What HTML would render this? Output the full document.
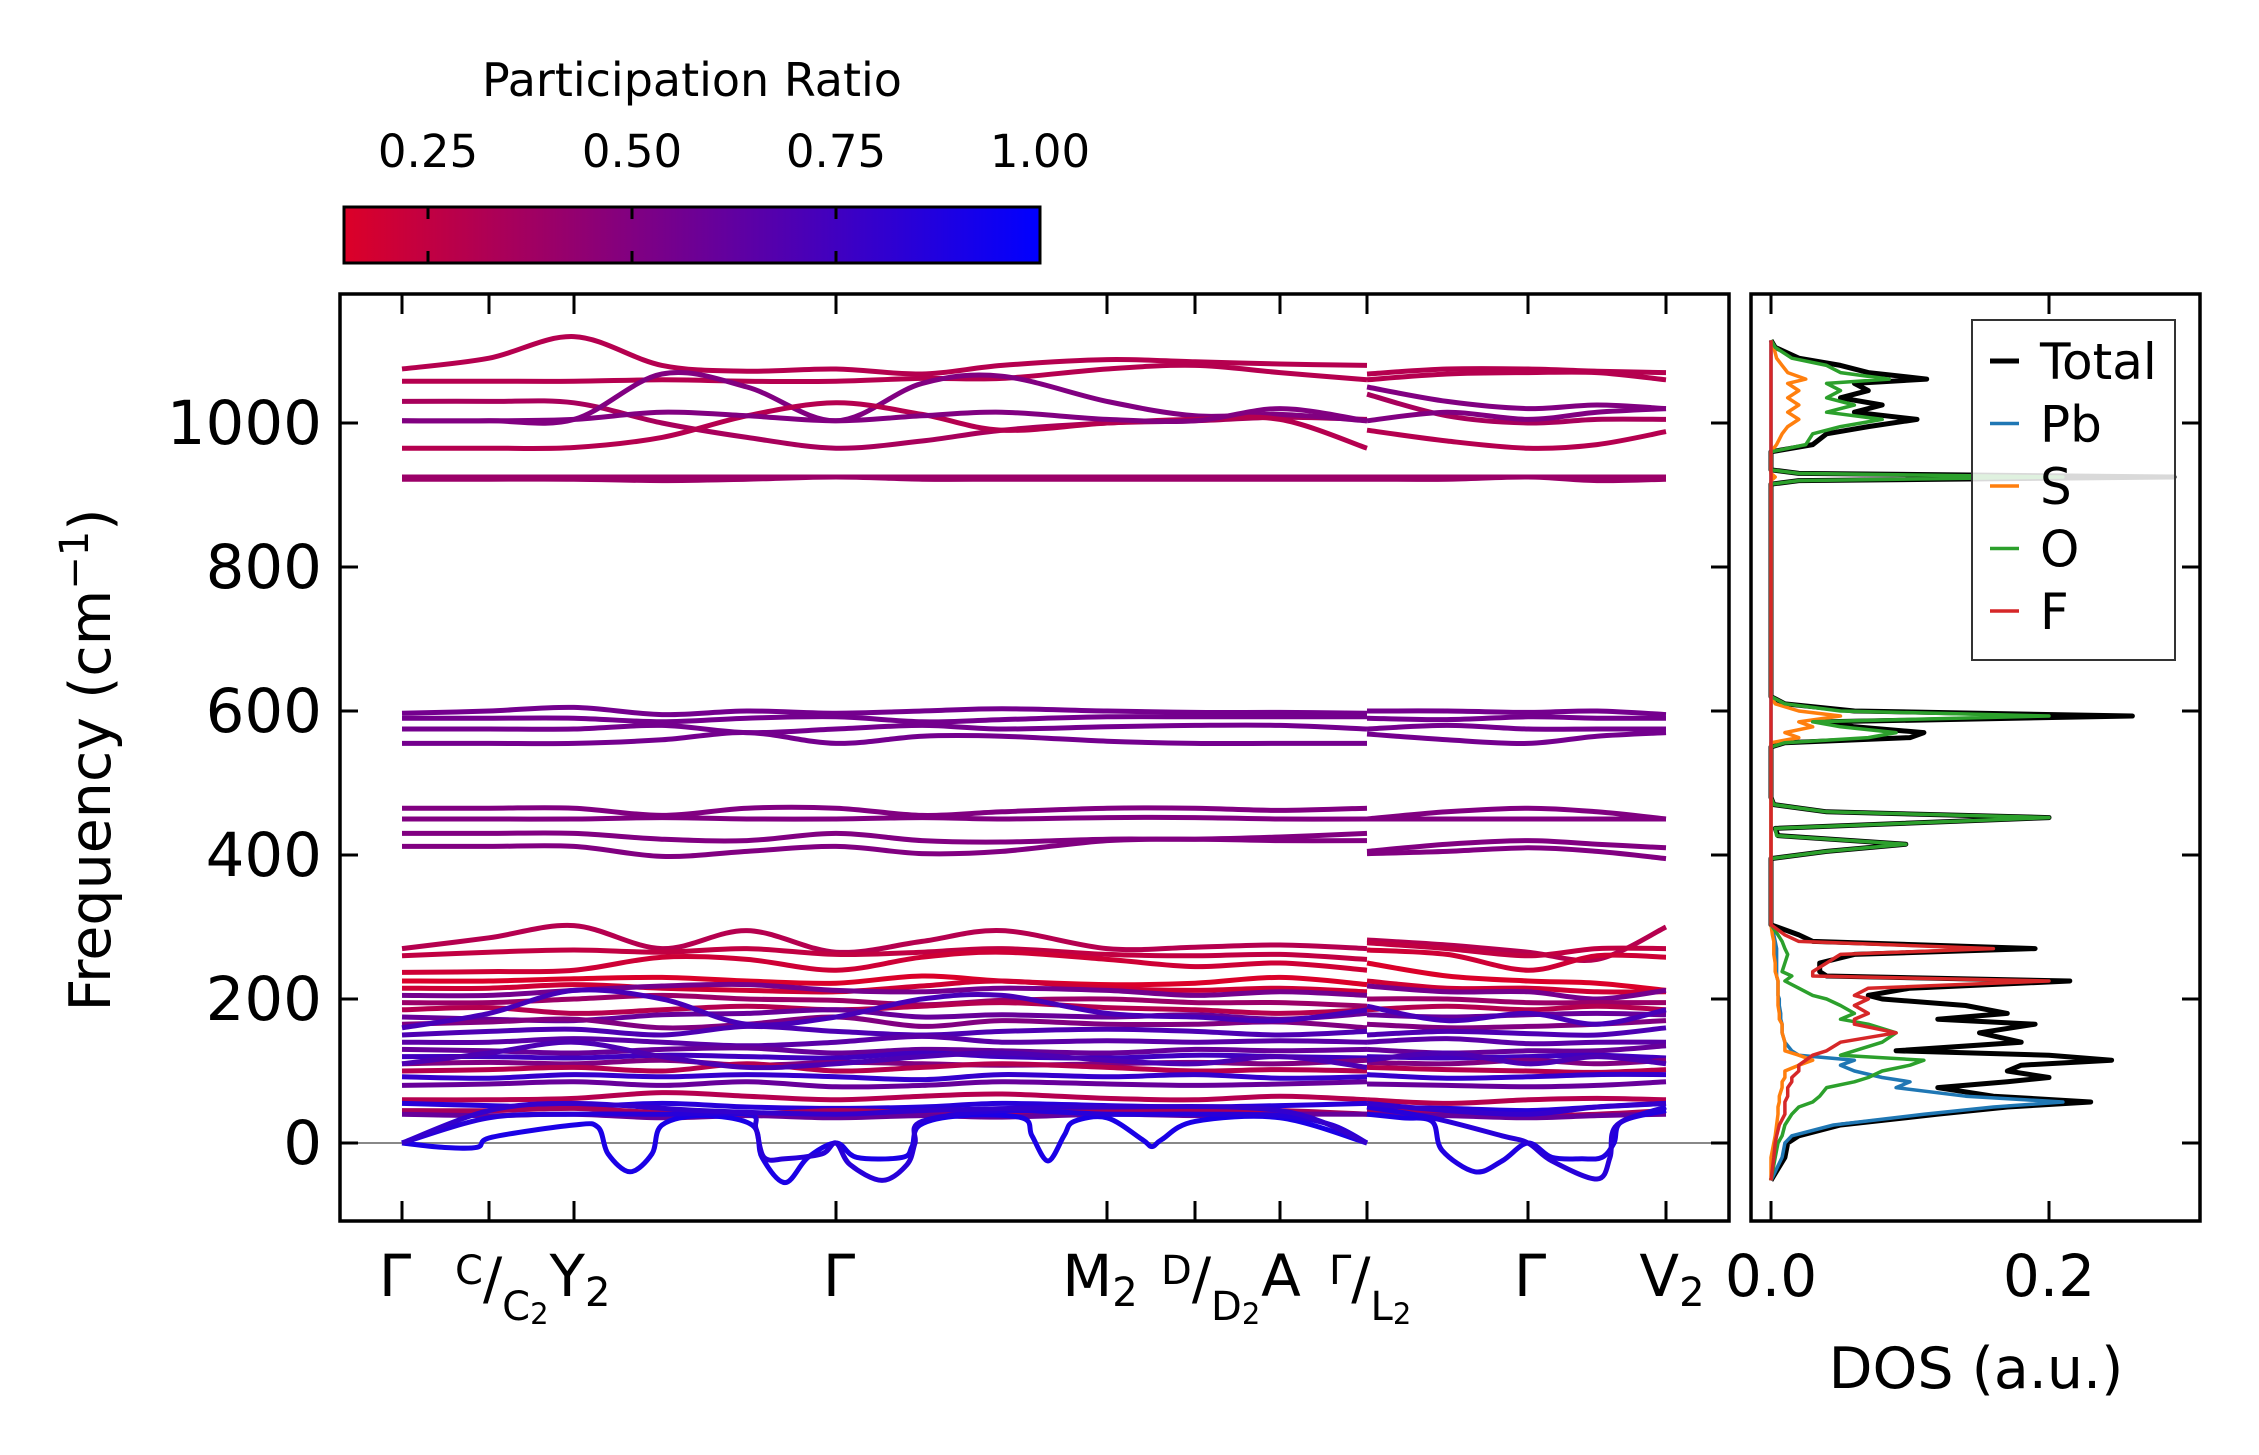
<!DOCTYPE html>
<html><head><meta charset="utf-8">
<style>
html,body{margin:0;padding:0;background:#fff;}
svg{display:block;font-family:"DejaVu Sans","Liberation Sans",sans-serif;}
</style></head>
<body>
<svg id="fig" width="2259" height="1455" viewBox="0 0 2259 1455" xmlns="http://www.w3.org/2000/svg">
<defs>
<linearGradient id="cbgrad" x1="0" x2="1" y1="0" y2="0">
<stop offset="0" stop-color="rgb(220,0,40)"/>
<stop offset="1" stop-color="rgb(0,0,255)"/>
</linearGradient>
<clipPath id="clipMain"><rect x="340" y="294" width="1389" height="927"/></clipPath>
<clipPath id="clipDos"><rect x="1751" y="294" width="449" height="927"/></clipPath>
</defs>
<g id="colorbar">
<text x="692" y="96" font-size="46" text-anchor="middle">Participation Ratio</text>
<rect x="344" y="207" width="696" height="56" fill="url(#cbgrad)" stroke="#000" stroke-width="3"/>
</g>
<g id="bands" clip-path="url(#clipMain)"></g>
<g id="dos" clip-path="url(#clipDos)"></g>
<g id="axes"></g>
</svg>
<script>
// ---------- band data ----------
const kTicks = [0, 87, 172, 434, 705, 793, 878, 965, 1126, 1264];
const kPart1 = [0, 87, 172, 260, 345, 434, 520, 600, 705, 793, 878, 965];
const kPart2 = [965, 1045, 1126, 1195, 1264];
const bandsPart1 = [
[1075,1090,1120,1080,1072,1075,1068,1080,1088,1085,1082,1080],
[1058,1058,1058,1060,1058,1058,1062,1062,1075,1080,1070,1060],
[1030,1030,1028,1000,980,965,975,990,1000,1003,1008,1005],
[1003,1003,1005,1068,1050,1003,1055,1065,1030,1010,1012,1003],
[965,965,966,980,1010,1028,1012,990,1000,1005,1005,965],
[1003,1003,1005,1015,1010,1003,1010,1015,1005,1003,1020,1003],
[925,925,925,925,925,925,925,925,925,925,925,925],
[922,922,922,920,922,925,922,922,922,922,922,922],
[597,600,605,595,600,597,600,603,600,598,598,597],
[590,590,590,585,590,592,585,588,592,592,592,592],
[575,575,575,580,570,575,580,575,578,580,580,575],
[555,555,555,560,570,555,565,565,558,555,555,555],
[465,465,465,455,465,465,455,460,465,465,462,465],
[450,450,450,452,450,450,452,450,452,452,450,450],
[430,430,430,422,420,430,420,418,422,422,425,430],
[412,412,412,398,405,412,402,405,420,422,420,420],
[270,285,302,270,295,265,280,295,270,272,275,270],
[260,265,268,265,270,262,265,270,262,260,262,255],
[237,238,240,258,255,240,258,265,255,245,250,240],
[225,225,228,230,225,222,232,225,220,222,230,220],
[215,215,220,215,212,210,218,225,215,212,215,210],
[205,205,212,218,220,212,210,215,212,205,210,205],
[195,195,200,205,200,198,192,198,200,195,195,190],
[185,188,180,185,190,185,190,195,188,185,180,185],
[175,172,170,178,180,185,175,178,175,178,172,180],
[165,168,172,160,165,175,162,170,165,165,168,160],
[150,155,158,150,162,155,150,155,158,155,150,155],
[140,140,145,140,135,140,148,140,142,140,142,140],
[130,128,125,130,132,125,130,128,125,130,128,130],
[120,120,118,122,120,118,125,120,118,122,120,118],
[110,112,110,115,108,112,110,108,110,112,110,115],
[100,102,105,100,110,100,105,110,105,100,102,100],
[92,90,95,92,95,92,88,95,92,95,90,92],
[80,82,85,80,85,78,80,85,82,80,82,85],
[60,60,62,70,65,60,65,68,62,60,65,60],
[55,52,50,55,50,48,50,55,52,50,52,55],
[45,45,48,42,40,45,42,40,45,45,45,40],
[40,38,40,35,38,35,38,36,40,38,40,40],
[160,180,212,200,165,175,200,205,180,175,170,185],
[110,125,140,120,105,110,120,125,115,110,120,105]
];
const bandsPart2 = [
[1068,1075,1075,1072,1070],
[1060,1068,1070,1070,1060],
[1040,1010,1000,1005,1005],
[1050,1030,1020,1025,1020],
[990,975,965,970,988],
[1003,1015,1005,1015,1020],
[925,925,925,925,925],
[922,922,925,920,922],
[600,600,598,600,595],
[590,588,592,590,590],
[575,580,575,575,575],
[568,560,555,565,570],
[450,460,465,460,450],
[450,450,450,450,450],
[405,415,420,415,410],
[402,405,410,405,395],
[282,275,265,255,300],
[278,270,260,270,270],
[268,262,240,260,258],
[250,232,225,222,212],
[225,215,215,210,210],
[218,210,210,200,212],
[200,200,195,195,195],
[185,190,185,190,185],
[178,175,178,180,178],
[165,160,162,165,170],
[150,155,152,150,160],
[140,145,138,140,140],
[130,125,128,128,135],
[120,118,120,122,118],
[112,110,115,110,115],
[105,102,100,98,102],
[95,90,92,95,95],
[82,80,78,80,85],
[60,55,60,62,60],
[50,48,45,50,55],
[45,42,38,40,45],
[40,38,35,38,40],
[190,170,180,165,185],
[115,125,110,120,110]
];
const bandPR = [0.3,0.3,0.35,0.5,0.3,0.5,0.4,0.4,0.55,0.55,0.55,0.55,0.5,0.5,0.5,0.5,
0.3,0.25,0.2,0.15,0.2,0.55,0.4,0.3,0.6,0.5,0.7,0.65,0.6,0.75,0.5,0.3,0.8,0.6,0.3,0.85,0.35,0.6,0.72,0.7];
// acoustic branches (own k samples)
const acK1 = [0,40,75,90,172,196,206,228,250,260,300,350,360,383,406,434,455,500,510,518,560,620,630,646,662,672,705,740,750,760,793,878,965];
const acV1 = [0,-6,-6,8,25,22,-15,-40,-15,25,38,25,-20,-55,-20,0,-20,-20,-5,25,38,35,10,-25,10,30,35,5,-5,5,30,35,0];
const acK2 = [0,87,172,260,345,354,362,383,420,434,448,480,505,513,520,600,705,793,878,930,965];
const acV2 = [0,35,40,40,40,20,-20,-22,-15,0,-30,-52,-30,0,30,45,40,40,38,25,0];
const acK3 = [0,87,172,300,434,520,705,878,965];
const acV3 = [0,45,55,45,40,45,50,45,0];
const acK4 = [965,1000,1030,1040,1073,1100,1126,1150,1180,1200,1212,1220,1264];
const acV4 = [40,35,30,-10,-40,-25,0,-20,-22,-20,0,30,45];
const acK5 = [965,1030,1100,1126,1150,1195,1208,1215,1264];
const acV5 = [50,35,10,0,-25,-50,-20,25,50];
const acK6 = [965,1045,1126,1195,1264];
const acV6 = [55,45,40,50,55];
const acPR = [0.9,0.85,0.8,0.88,0.85,0.8];

// ---------- DOS data ----------
const dosFreq = [-52,-20,0,10,25,40,50,57,65,77,85,91,100,108,115,122,128,140,153,165,172,180,191,200,205,215,225,232,238,250,262,270,280,289,303,395,405,415,427,437,452,460,470,480,550,556,563,570,578,585,593,600,610,620,915,920,925,930,935,960,970,985,995,1005,1015,1025,1035,1045,1055,1061,1070,1080,1090,1105,1115];
const dosTotal = [0,0.01,0.012,0.02,0.05,0.12,0.17,0.23,0.16,0.12,0.17,0.2,0.17,0.18,0.245,0.2,0.09,0.18,0.15,0.19,0.12,0.17,0.14,0.08,0.07,0.1,0.215,0.04,0.035,0.035,0.06,0.19,0.03,0.02,0,0,0.04,0.097,0.005,0.003,0.2,0.04,0.002,0,0,0.01,0.1,0.11,0.06,0.04,0.26,0.06,0.01,0,0,0.02,0.29,0.02,0,0,0.03,0.04,0.07,0.105,0.06,0.08,0.05,0.07,0.06,0.112,0.07,0.05,0.02,0.003,0];
const dosPb = [0,0.008,0.01,0.015,0.045,0.11,0.16,0.21,0.14,0.09,0.1,0.08,0.06,0.05,0.06,0.02,0.015,0.01,0.008,0.008,0.007,0.007,0.006,0.006,0.005,0.005,0.005,0.004,0.004,0.004,0.004,0.004,0.003,0.002,0,0,0,0,0,0,0,0,0,0,0,0,0,0,0,0,0,0,0,0,0,0,0,0,0,0,0,0,0,0,0,0,0,0,0,0,0,0,0,0,0];
const dosS = [0,0,0.002,0.003,0.004,0.005,0.005,0.006,0.006,0.008,0.008,0.01,0.01,0.02,0.03,0.02,0.01,0.01,0.008,0.008,0.006,0.006,0.005,0.005,0.005,0.005,0.005,0.004,0.003,0.003,0.002,0.002,0.002,0.001,0,0,0,0,0,0,0,0,0,0,0,0,0.02,0.01,0.03,0.02,0.05,0.02,0.003,0,0,0,0.003,0,0,0,0.004,0.008,0.012,0.02,0.012,0.02,0.012,0.02,0.012,0.025,0.012,0.008,0.004,0.002,0];
const dosO = [0,0.003,0.005,0.008,0.01,0.015,0.02,0.03,0.035,0.04,0.06,0.07,0.08,0.1,0.11,0.05,0.06,0.08,0.09,0.07,0.05,0.06,0.05,0.04,0.03,0.02,0.01,0.015,0.008,0.01,0.012,0.01,0.008,0.005,0,0,0.04,0.097,0.004,0.003,0.2,0.04,0.002,0,0,0.01,0.07,0.09,0.05,0.03,0.2,0.05,0.01,0,0,0.02,0.21,0.02,0,0,0.025,0.03,0.05,0.08,0.04,0.06,0.04,0.05,0.04,0.085,0.05,0.04,0.015,0.003,0];
const dosF = [0,0.002,0.003,0.004,0.006,0.01,0.01,0.01,0.012,0.012,0.015,0.015,0.02,0.02,0.025,0.03,0.04,0.05,0.09,0.06,0.06,0.07,0.06,0.07,0.06,0.07,0.2,0.03,0.03,0.04,0.05,0.16,0.02,0.01,0,0,0,0,0,0,0,0,0,0,0,0,0,0,0,0,0,0,0,0,0,0,0,0,0,0,0,0,0,0,0,0,0,0,0,0,0,0,0,0,0];
const dosLegend = ["Total","Pb","S","O","F"];
const dosColors = ["#000000","#1f77b4","#ff7f0e","#2ca02c","#d62728"];

// ---------- axes / labels ----------
const freqTicks = [0,200,400,600,800,1000];
const cbTicks = [0.25,0.5,0.75,1.0];
const dosTicks = [0.0,0.2];

const NS = "http://www.w3.org/2000/svg";
const X0 = 340, X1 = 1729, Y0 = 294, Y1 = 1221;
const DX0 = 1751, DX1 = 2200;
function xk(k){ return 402 + k * (1666 - 402) / 1264; }
function yf(f){ return 1143 - f * 0.72; }
function xd(v){ return 1771 + v * 1390; }
function xcb(v){ return 428 + (v - 0.25) * 816; }
function prColor(p){
  const t = Math.max(0, Math.min(1, (p - 0.147) / (1 - 0.147)));
  return `rgb(${Math.round(220*(1-t))},0,${Math.round(40 + 215*t)})`;
}
function mk(tag, attrs, parent){
  const e = document.createElementNS(NS, tag);
  for (const a in attrs) e.setAttribute(a, attrs[a]);
  parent.appendChild(e);
  return e;
}
function smoothPath(pts){
  let d = `M${pts[0][0].toFixed(1)},${pts[0][1].toFixed(1)}`;
  for (let i = 0; i < pts.length - 1; i++){
    const p0 = pts[Math.max(0,i-1)], p1 = pts[i], p2 = pts[i+1], p3 = pts[Math.min(pts.length-1,i+2)];
    const c1x = p1[0] + (p2[0]-p0[0])/6, c1y = p1[1] + (p2[1]-p0[1])/6;
    const c2x = p2[0] - (p3[0]-p1[0])/6, c2y = p2[1] - (p3[1]-p1[1])/6;
    d += ` C${c1x.toFixed(1)},${c1y.toFixed(1)} ${c2x.toFixed(1)},${c2y.toFixed(1)} ${p2[0].toFixed(1)},${p2[1].toFixed(1)}`;
  }
  return d;
}

const svg = document.getElementById('fig');
const gB = document.getElementById('bands');
const gD = document.getElementById('dos');
const gA = document.getElementById('axes');
const gCB = document.getElementById('colorbar');

cbTicks.forEach((v) => {
  const x = xcb(v);
  const t1 = mk('line', {x1:x, x2:x, y1:207, y2:219, stroke:'#000', 'stroke-width':3}, gCB);
  
  
  const t2 = mk('line', {x1:x, x2:x, y1:251, y2:263, stroke:'#000', 'stroke-width':3}, gCB);
  
  
  const tx = mk('text', {x:x, y:167, 'font-size':45, 'text-anchor':'middle'}, gCB);
  tx.textContent = v.toFixed(2);
  
  
});

const zl = mk('line', {x1:X0, x2:X1, y1:yf(0), y2:yf(0), stroke:'#888', 'stroke-width':2}, gB);



function drawBand(ks, vs, pr, name){
  const pts = ks.map((k,i) => [xk(k), yf(vs[i])]);
  const p = mk('path', {d:smoothPath(pts), fill:'none', stroke:prColor(pr), 'stroke-width':5, 'stroke-linecap':'butt'}, gB);
  
  
}
bandsPart1.forEach((b,i) => drawBand(kPart1, b, bandPR[i], 'phonon-band'));
bandsPart2.forEach((b,i) => drawBand(kPart2, b, bandPR[i], 'phonon-band'));
const acKs = [acK1,acK2,acK3,acK4,acK5,acK6];
const acVs = [acV1,acV2,acV3,acV4,acV5,acV6];
acKs.forEach((ks,i) => drawBand(ks, acVs[i], acPR[i], 'acoustic-band'));

const dosSeries = [dosTotal, dosPb, dosS, dosO, dosF];
dosSeries.forEach((s,i) => {
  const d = s.map((v,j) => `${j?'L':'M'}${xd(v).toFixed(1)},${yf(dosFreq[j]).toFixed(1)}`).join(' ');
  const p = mk('path', {d:d, fill:'none', stroke:dosColors[i], 'stroke-width': i===0?5:3.5, 'stroke-linejoin':'round'}, gD);
  
  
});

const fr = mk('rect', {x:X0, y:Y0, width:X1-X0, height:Y1-Y0, fill:'none', stroke:'#000', 'stroke-width':3.5}, gA);


const fr2 = mk('rect', {x:DX0, y:Y0, width:DX1-DX0, height:Y1-Y0, fill:'none', stroke:'#000', 'stroke-width':3.5}, gA);



freqTicks.forEach(f => {
  const y = yf(f);
  [[X0, X0+18],[X1-18, X1],[DX1-18, DX1]].forEach(([a,b]) => {
    const t = mk('line', {x1:a, x2:b, y1:y, y2:y, stroke:'#000', 'stroke-width':3}, gA);
    
    
  });
  const tx = mk('text', {x:X0-18, y:y+21, 'font-size':61, 'text-anchor':'end'}, gA);
  tx.textContent = String(f);
  
  
});
kTicks.forEach(k => {
  const x = xk(k);
  [[Y0, Y0+20],[Y1-20, Y1]].forEach(([a,b]) => {
    const t = mk('line', {x1:x, x2:x, y1:a, y2:b, stroke:'#000', 'stroke-width':3}, gA);
    
    
  });
});
dosTicks.forEach(v => {
  const x = xd(v);
  [[Y0, Y0+20],[Y1-20, Y1]].forEach(([a,b]) => {
    const t = mk('line', {x1:x, x2:x, y1:a, y2:b, stroke:'#000', 'stroke-width':3}, gA);
    
    
  });
  const tx = mk('text', {x:x, y:1296, 'font-size':58, 'text-anchor':'middle'}, gA);
  tx.textContent = v.toFixed(1);
  
  
});

function simpleLabel(txt, sub, x){
  const t = mk('text', {x:x, y:1296, 'font-size':58, 'text-anchor':'middle'}, gA);
  
  
  t.appendChild(document.createTextNode(txt));
  if (sub){
    const s = mk('tspan', {'font-size':40, dy:10}, t);
    s.textContent = sub;
  }
}
function fracLabel(sup, den, x){
  const t = mk('text', {x:x-36, y:1284, 'font-size':40}, gA);
  
  
  const a = mk('tspan', {}, t); a.textContent = sup;
  const b = mk('tspan', {'font-size':57, dy:14}, t); b.textContent = '/';
  const c = mk('tspan', {'font-size':40, dy:22}, t); c.textContent = den;
  const d = mk('tspan', {'font-size':29, dy:4}, t); d.textContent = '2';
}
simpleLabel('Γ', '', 395);
fracLabel('C', 'C', 491);
simpleLabel('Y', '2', 580);
simpleLabel('Γ', '', 839);
simpleLabel('M', '2', 1100);
fracLabel('D', 'D', 1197);
simpleLabel('A', '', 1281);
fracLabel('Γ', 'L', 1365);
simpleLabel('Γ', '', 1530);
simpleLabel('V', '2', 1672);

const yl = mk('text', {x:0, y:0, 'font-size':57, 'text-anchor':'middle', transform:'translate(110,760) rotate(-90)'}, gA);


yl.appendChild(document.createTextNode('Frequency (cm'));
const ysup = mk('tspan', {'font-size':40, dy:-22}, yl); ysup.textContent = '−1';
const yend = mk('tspan', {dy:22}, yl); yend.textContent = ')';
const xl = mk('text', {x:1976, y:1388, 'font-size':57, 'text-anchor':'middle'}, gA);
xl.textContent = 'DOS (a.u.)';



const lg = mk('g', {}, gA);


const lr = mk('rect', {x:1972, y:320, width:203, height:340, fill:'#fff', 'fill-opacity':0.85, stroke:'#333', 'stroke-width':2}, lg);


dosLegend.forEach((n,i) => {
  const y = 361 + i * 62.5;
  const l = mk('line', {x1:1990, x2:2019, y1:y, y2:y, stroke:dosColors[i], 'stroke-width': i===0?5:3.5}, lg);
  
  
  const t = mk('text', {x:2040, y:y+18, 'font-size':50}, lg);
  t.textContent = n;
  
  
});
</script>
</body></html>
